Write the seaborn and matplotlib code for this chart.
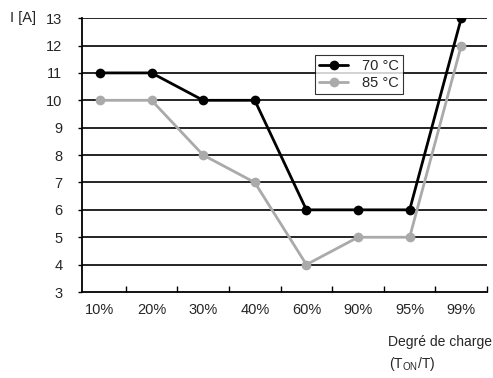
import pandas as pd
import seaborn as sns
import matplotlib.pyplot as plt
from matplotlib.ticker import FixedLocator

sns.set_style("white")
plt.rcParams["font.family"] = ["Liberation Sans", "DejaVu Sans"]
plt.rcParams["mathtext.fontset"] = "custom"
plt.rcParams["mathtext.rm"] = "Liberation Sans"
plt.rcParams["mathtext.it"] = "Liberation Sans"

# données
charge = ["10%", "20%", "30%", "40%", "60%", "90%", "95%", "99%"]
i_70 = [11, 11, 10, 10, 6, 6, 6, 13]
i_85 = [10, 10, 8, 7, 4, 5, 5, 12]
series = ["70 °C", "85 °C"]

df = pd.DataFrame({
    "charge": charge * 2,
    "courant": i_70 + i_85,
    "temp": [series[0]] * len(charge) + [series[1]] * len(charge),
})

fig = plt.figure(figsize=(4.93, 3.78), dpi=100)
ax = fig.add_axes([0.166, 0.2275, 0.822, 0.7245])

# grille horizontale noire
for y in range(4, 14):
    ax.axhline(y, color="black", lw=1.2, zorder=1)

sns.lineplot(data=df, x="charge", y="courant", hue="temp", sort=False,
             palette=["black", "#aaaaaa"], marker="o", markersize=7,
             markeredgewidth=0, linewidth=2, ax=ax, zorder=3)

fs = 10.5
ax.set_ylim(3, 13)
ax.set_xlim(-0.35, 7.5)
ax.set_yticks(range(3, 14))
ax.tick_params(axis="y", direction="out", length=3, width=1, color="black",
               labelsize=fs, pad=11, left=True)
ax.tick_params(axis="x", which="major", length=0, labelsize=fs, pad=8)
ax.xaxis.set_minor_locator(FixedLocator([k + 0.5 for k in range(8)]))
ax.tick_params(axis="x", which="minor", direction="in", length=4, width=1,
               color="black", bottom=True)

for s in ["top", "right"]:
    ax.spines[s].set_visible(False)
for s in ["left", "bottom"]:
    ax.spines[s].set_color("black")
    ax.spines[s].set_linewidth(1.3)

ax.set_xlabel("")
ax.set_ylabel("")
fig.text(0.02, 0.952, "I [A]", fontsize=fs, va="center", ha="left")
fig.text(0.997, 0.095, "Degré de charge", fontsize=10, va="center", ha="right")
fig.text(0.79, 0.037, r"(T$_{\mathrm{ON}}$/T)", fontsize=10, va="center", ha="left")

leg = ax.legend(title=None, loc="upper left", bbox_to_anchor=(0.575, 0.865),
                borderaxespad=0, frameon=True, fancybox=False, fontsize=fs,
                handlelength=2, borderpad=0.3, labelspacing=0.15,
                handletextpad=0.9)
leg.get_frame().set_edgecolor("black")
leg.get_frame().set_linewidth(0.8)

fig.savefig("out.png", dpi=100)
